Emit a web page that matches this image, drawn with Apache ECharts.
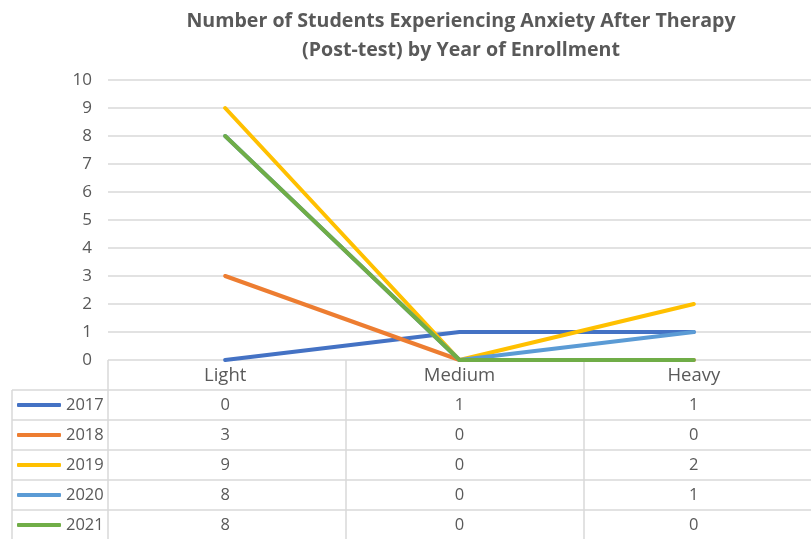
<!DOCTYPE html>
<html>
<head>
<meta charset="utf-8">
<script src="https://cdn.jsdelivr.net/npm/echarts@6/dist/echarts.min.js"></script>
<style>html,body{margin:0;padding:0;background:#fff;}#c{width:811px;height:539px;}</style>
</head>
<body>
<div id="c"></div>
<script>
const categories = ['Light', 'Medium', 'Heavy'];
const years = ['2017', '2018', '2019', '2020', '2021'];
const v2017 = [0, 1, 1];
const v2018 = [3, 0, 0];
const v2019 = [9, 0, 2];
const v2020 = [8, 0, 1];
const v2021 = [8, 0, 0];
const yTicks = [0, 1, 2, 3, 4, 5, 6, 7, 8, 9, 10];
const colors = ['#4472C4', '#ED7D31', '#FFC000', '#5B9BD5', '#70AD47'];
const seriesValues = [v2017, v2018, v2019, v2020, v2021];

const FONT = '"Open Sans", sans-serif';
const TXT = '#595959';
const GRIDC = '#d9d9d9';
const G = { left: 108, top: 80, width: 714, height: 280 };
const ROW = 30;

const chart = echarts.init(document.getElementById('c'), null, { renderer: 'canvas' });

const xAxes = [{
  type: 'category', gridIndex: 0, data: categories, boundaryGap: true,
  axisLine: { show: false }, axisTick: { show: false },
  axisLabel: { color: TXT, fontSize: 18.5, fontFamily: FONT, margin: 6 }
}];
seriesValues.forEach((vals, i) => {
  xAxes.push({
    type: 'category', gridIndex: 0, data: vals.map(String), position: 'bottom',
    offset: ROW * (i + 1), boundaryGap: true,
    axisLine: { show: false }, axisTick: { show: false }, splitLine: { show: false },
    axisLabel: { color: TXT, fontSize: 16.5, fontFamily: FONT, margin: 7 }
  });
});

// table lines
const graphics = [];
const tblLeft = 12, colLeft = G.left, right = G.left + G.width, bottom = 539;
const y0 = G.top + G.height;
for (let r = 1; r <= years.length; r++) {
  const y = y0 + ROW * r;
  graphics.push({ type: 'line', shape: { x1: tblLeft, y1: y, x2: right, y2: y }, style: { stroke: GRIDC, lineWidth: 1.5 }, silent: true });
}
graphics.push({ type: 'line', shape: { x1: tblLeft, y1: y0 + ROW, x2: tblLeft, y2: bottom }, style: { stroke: GRIDC, lineWidth: 1.5 } });
for (let c = 0; c <= categories.length; c++) {
  const x = colLeft + c * G.width / categories.length;
  graphics.push({ type: 'line', shape: { x1: x, y1: y0, x2: x, y2: bottom }, style: { stroke: GRIDC, lineWidth: 1.5 } });
}

// one legend per table row so each key sits in its row
const legends = years.map((y, i) => ({
  orient: 'horizontal', left: 17, top: y0 + ROW * (i + 1) + 5, itemGap: 0, padding: 0,
  icon: 'roundRect', itemWidth: 44, itemHeight: 4,
  data: [y],
  textStyle: { color: TXT, fontSize: 16.5, fontFamily: FONT, lineHeight: 20 }
}));

const option = {
  backgroundColor: '#fff',
  animation: false,
  title: {
    text: 'Number of Students Experiencing Anxiety After Therapy\n(Post-test) by Year of Enrollment',
    left: 456, top: 2, textAlign: 'center',
    textStyle: { color: TXT, fontSize: 19.6, fontWeight: 'bold', fontFamily: FONT, lineHeight: 29 }
  },
  legend: legends,
  grid: { left: G.left, top: G.top, width: G.width, height: G.height, containLabel: false },
  xAxis: xAxes,
  yAxis: {
    type: 'value', min: 0, max: 10, interval: 1,
    axisLine: { show: false }, axisTick: { show: false },
    splitLine: { lineStyle: { color: GRIDC, width: 1.5 } },
    axisLabel: { color: TXT, fontSize: 17, fontFamily: FONT, margin: 16,
      formatter: v => yTicks.includes(v) ? String(v) : '' }
  },
  graphic: graphics,
  series: years.map((y, i) => ({
    name: y, type: 'line', xAxisIndex: 0, data: seriesValues[i],
    showSymbol: false, symbol: 'none',
    itemStyle: { color: colors[i] },
    lineStyle: { color: colors[i], width: 4, cap: 'round', join: 'round' }
  }))
};
chart.setOption(option);
</script>
</body>
</html>
